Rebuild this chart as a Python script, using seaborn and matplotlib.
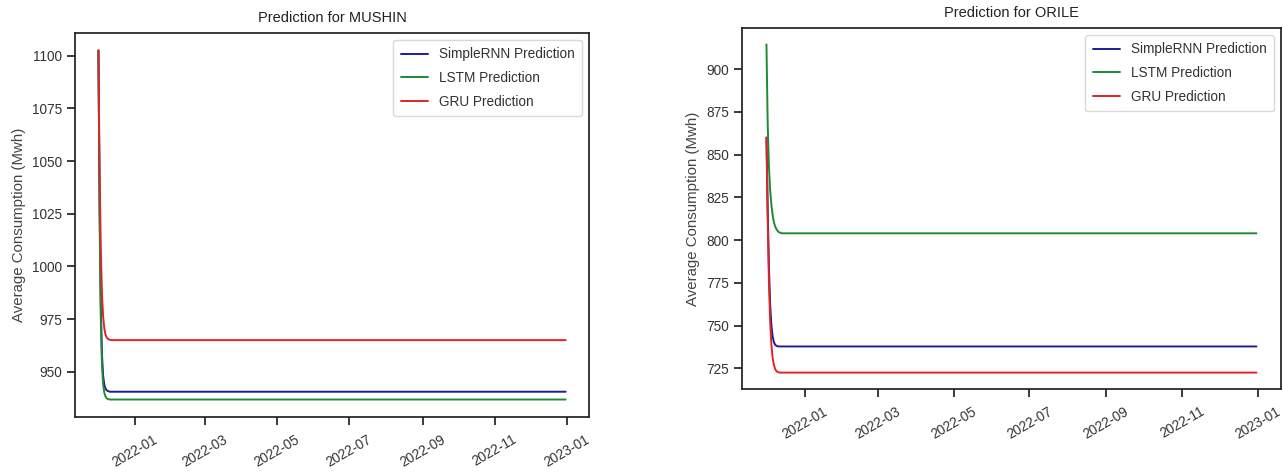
import numpy as np
import pandas as pd
import matplotlib
matplotlib.use("Agg")
import matplotlib.pyplot as plt
import matplotlib.dates as mdates
import seaborn as sns

# Forecast horizon: daily steps
start_date = "2021-12-01"
end_date = "2022-12-31"

models = ["SimpleRNN Prediction", "LSTM Prediction", "GRU Prediction"]
model_colors = ["#1c1c9a", "#1f8a35", "#e02424"]

# MUSHIN: first days of each forecast, then the level it settles at
mushin_rnn_head = [1102.5, 1030.0, 982.0, 958.0, 948.0, 943.8, 942.0, 941.2, 940.8, 940.6]
mushin_rnn_level = 940.5
mushin_lstm_head = [1102.5, 1022.0, 975.0, 953.0, 944.0, 940.0, 938.2, 937.4, 937.0, 936.9]
mushin_lstm_level = 936.8
mushin_gru_head = [1102.5, 1045.0, 1008.0, 987.0, 976.0, 970.5, 967.6, 966.2, 965.6, 965.3, 965.1]
mushin_gru_level = 965.0

# ORILE: first days of each forecast, then the level it settles at
orile_rnn_head = [860.0, 818.0, 784.0, 762.0, 750.0, 743.5, 740.3, 738.8, 738.2, 737.9]
orile_rnn_level = 737.8
orile_lstm_head = [914.5, 868.0, 843.0, 829.0, 820.5, 814.5, 810.5, 808.0, 806.5, 805.4, 804.7, 804.3, 804.1]
orile_lstm_level = 804.0
orile_gru_head = [860.0, 812.0, 775.0, 752.0, 738.5, 731.0, 727.0, 724.6, 723.4, 722.9, 722.6]
orile_gru_level = 722.5

dates = pd.date_range(start_date, end_date, freq="D")


def series(head, level):
    values = np.full(len(dates), level, dtype=float)
    values[: len(head)] = head
    return values


def frame(heads_levels):
    parts = []
    for name, (head, level) in zip(models, heads_levels):
        parts.append(pd.DataFrame({"Date": dates, "Value": series(head, level), "Model": name}))
    return pd.concat(parts, ignore_index=True)


mushin = frame([(mushin_rnn_head, mushin_rnn_level),
                (mushin_lstm_head, mushin_lstm_level),
                (mushin_gru_head, mushin_gru_level)])
orile = frame([(orile_rnn_head, orile_rnn_level),
               (orile_lstm_head, orile_lstm_level),
               (orile_gru_head, orile_gru_level)])

sns.set_theme(style="ticks")
plt.rcParams["font.family"] = ["Liberation Sans", "DejaVu Sans"]
plt.rcParams["axes.edgecolor"] = "#222222"
plt.rcParams["xtick.color"] = "#222222"
plt.rcParams["ytick.color"] = "#222222"
plt.rcParams["xtick.labelcolor"] = "#333333"
plt.rcParams["ytick.labelcolor"] = "#333333"

fig = plt.figure(figsize=(12.83, 4.74), dpi=100)
ax1 = fig.add_axes([0.0585, 0.1203, 0.4006, 0.8101])
ax2 = fig.add_axes([0.5783, 0.1793, 0.4201, 0.7616])

palette = dict(zip(models, model_colors))

for ax, df, title in [(ax1, mushin, "Prediction for MUSHIN"),
                      (ax2, orile, "Prediction for ORILE")]:
    sns.lineplot(data=df, x="Date", y="Value", hue="Model", hue_order=models,
                 palette=palette, linewidth=1.4, ax=ax)
    ax.set_title(title, fontsize=10.5, color="#222222", pad=8)
    ax.set_xlabel("")
    ax.set_ylabel("Average Consumption (Mwh)", fontsize=10.8, color="#444444")
    ax.xaxis.set_major_locator(mdates.MonthLocator(bymonth=[1, 3, 5, 7, 9, 11]))
    ax.xaxis.set_major_formatter(mdates.DateFormatter("%Y-%m"))
    ax.yaxis.set_major_locator(matplotlib.ticker.MultipleLocator(25))
    ax.tick_params(axis="both", labelsize=9.8)
    ax.tick_params(axis="x", pad=5)
    plt.setp(ax.get_xticklabels(), rotation=30, ha="center")
    leg = ax.legend(loc="upper right", fontsize=9.8, frameon=True,
                    handlelength=2.0, labelspacing=0.72, borderpad=0.55)
    leg.get_frame().set_edgecolor("#d0d0d0")
    for t in leg.get_texts():
        t.set_color("#333333")

fig.savefig("out.png", dpi=100)
